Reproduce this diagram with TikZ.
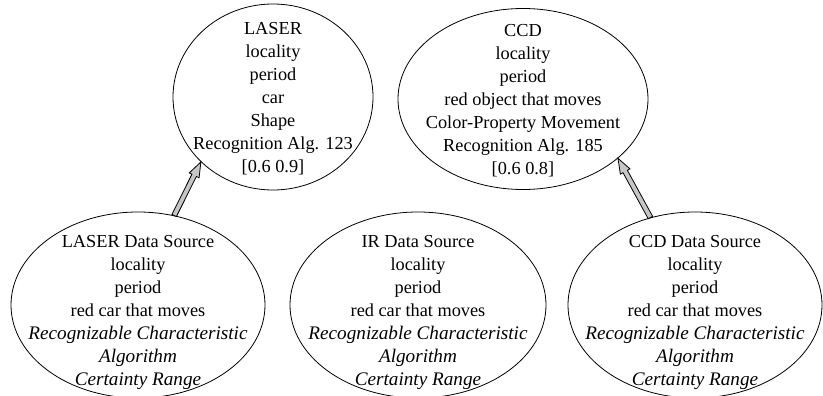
\documentclass[tikz,border=0pt]{standalone}
\usepackage{fontspec}
\setmainfont{Liberation Serif}
\usetikzlibrary{shapes.geometric,calc}
\newcommand{\itl}[1]{{\fontsize{19.2}{23}\selectfont\itshape #1}}
\tikzset{
  oval/.style={ellipse, draw=black, line width=0.8pt, inner sep=0pt},
  txt/.style={align=center, inner sep=0pt, font=\fontsize{18.3}{23}\selectfont},
  arrowstyle/.style={draw=black, fill=gray!45, line width=0.8pt, line join=miter},
}
\newcommand{\grayarrow}[2]{%
  \path (#1) coordinate (gas) (#2) coordinate (gae);
  \coordinate (gah) at ($(gae)!15pt!(gas)$);
  \draw[arrowstyle] ($(gas)!2.5pt!90:(gae)$) -- ($(gah)!2.5pt!90:(gae)$)
    -- ($(gah)!5.5pt!90:(gae)$) -- (gae) -- ($(gah)!5.5pt!-90:(gae)$)
    -- ($(gah)!2.5pt!-90:(gae)$) -- ($(gas)!2.5pt!-90:(gae)$) -- cycle;}
\begin{document}
\begin{tikzpicture}[x=1pt,y=-1pt]
\useasboundingbox (0,0) rectangle (823,396);
\clip (0,0) rectangle (823,396);
% top ellipses
\node[oval, minimum width=200pt, minimum height=186pt] (laser) at (273,97) {};
\node[txt] (laserT) at ($(laser.center)+(0,2)$) {LASER\\locality\\period\\car\\Shape\\Recognition Alg. 123\\{[0.6 0.9]}};
\node[oval, minimum width=250pt, minimum height=181pt] (ccd) at (523,99) {};
\node[txt] (ccdT) at ($(ccd.center)+(0,2)$) {CCD\\locality\\period\\red object that moves\\Color-Property Movement\\Recognition Alg. 185\\{[0.6 0.8]}};
% bottom ellipses
\node[oval, minimum width=254pt, minimum height=186pt] (lds) at (138,305) {};
\node[txt] (ldsT) at ($(lds.center)+(0,8)$) {LASER Data Source\\locality\\period\\red car that moves\\\itl{Recognizable Characteristic}\\\itl{Algorithm}\\\itl{Certainty Range}};
\node[oval, minimum width=256pt, minimum height=186pt] (ir) at (418,305) {};
\node[txt] (irT) at ($(ir.center)+(0,8)$) {IR Data Source\\locality\\period\\red car that moves\\\itl{Recognizable Characteristic}\\\itl{Algorithm}\\\itl{Certainty Range}};
\node[oval, minimum width=254pt, minimum height=186pt] (cds) at (695,305) {};
\node[txt] (cdsT) at ($(cds.center)+(0,8)$) {CCD Data Source\\locality\\period\\red car that moves\\\itl{Recognizable Characteristic}\\\itl{Algorithm}\\\itl{Certainty Range}};
% arrows
\grayarrow{lds.68.7}{laser.222}
\grayarrow{cds.117.1}{ccd.-32.2}
\end{tikzpicture}
\end{document}
